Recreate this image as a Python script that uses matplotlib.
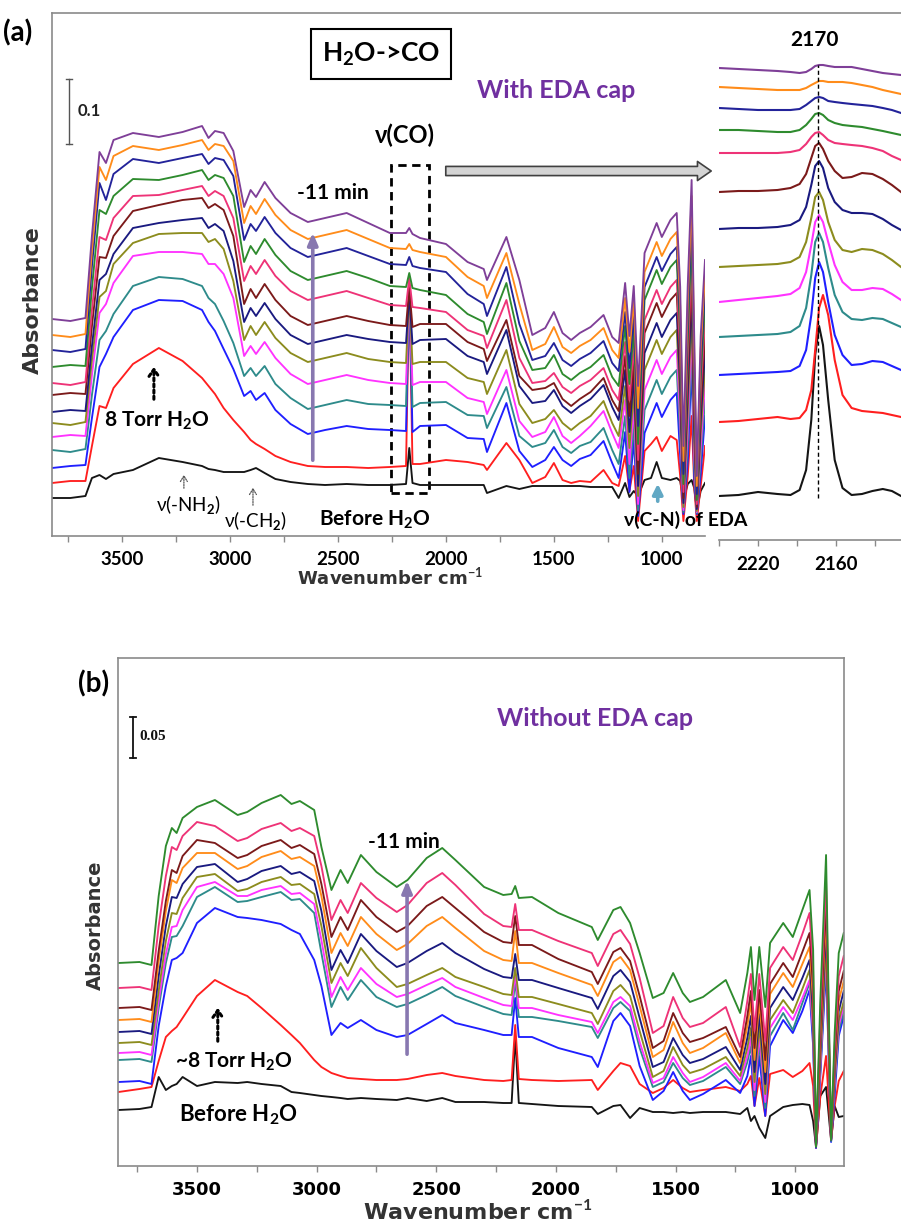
import matplotlib
matplotlib.use("Agg")
import matplotlib.pyplot as plt
import numpy as np
from matplotlib.patches import Rectangle, FancyArrowPatch, ArrowStyle
from matplotlib.lines import Line2D
from matplotlib.ticker import MultipleLocator, FixedLocator, NullLocator

plt.rcParams['font.family'] = ['Lato', 'DejaVu Sans']
plt.rcParams['mathtext.fontset'] = 'custom'
plt.rcParams['mathtext.rm'] = 'Lato:bold'
plt.rcParams['mathtext.it'] = 'Lato:bold:italic'
plt.rcParams['mathtext.bf'] = 'Lato:bold'

# ---------------------------------------------------------------- data (a)
# values, in units of the scale bar (65 units = 0.1 abs)
A_UNIT = 0.1 / 65.0
wn_a = [3825, 3740, 3670, 3640, 3605, 3575, 3540, 3450, 3330, 3220,
        3130, 3100, 3070, 3030, 2985, 2935, 2905, 2880, 2840, 2790,
        2720, 2640, 2560, 2460, 2360, 2260, 2185, 2170, 2155, 2120,
        2000, 1900, 1825, 1810, 1720, 1660, 1600, 1540, 1500, 1460,
        1420, 1380, 1330, 1270, 1230, 1200, 1170, 1150, 1130, 1110,
        1080, 1050, 1024, 1000, 960, 931, 915, 900, 880, 862,
        850, 838, 820, 800]
a_black_before = [38, 38, 40, 58, 61, 57, 62, 66, 78, 74,
                  70, 67, 66, 64, 64, 64, 66, 68, 63, 57,
                  54, 52, 51, 52, 51, 51, 52, 88, 53, 51,
                  51, 51, 51, 43, 50, 47, 50, 50, 50, 50,
                  50, 50, 49, 49, 49, 38, 53, 39, 45, 40,
                  56, 58, 74, 58, 56, 58, 55, 36, 52, 56,
                  48, 26, 45, 53]
a_red_8torr = [53, 55, 55, 90, 130, 128, 148, 172, 188, 175,
               158, 150, 142, 128, 116, 104, 96, 92, 87, 80,
               74, 70, 69, 69, 68, 69, 70, 250, 72, 72,
               76, 74, 71, 66, 93, 76, 53, 59, 73, 56,
               53, 55, 54, 66, 53, 50, 80, 45, 70, 15,
               85, 92, 99, 85, 100, 96, 60, 15, 60, 120,
               50, 15, 50, 90]
a_blue = [68, 70, 71, 118, 169, 182, 199, 226, 236, 235,
          226, 214, 205, 187, 167, 140, 145, 136, 143, 126,
          112, 102, 106, 110, 107, 106, 105, 247, 104, 110,
          111, 98, 97, 84, 133, 85, 69, 76, 89, 76,
          70, 77, 81, 95, 73, 58, 104, 44, 96, 20,
          103, 119, 133, 119, 136, 143, 80, 22, 75, 172,
          58, 22, 62, 120]
a_teal = [86, 84, 87, 141, 196, 205, 222, 250, 259, 257,
          250, 238, 232, 215, 193, 160, 168, 160, 170, 152,
          138, 127, 131, 136, 132, 131, 130, 245, 129, 133,
          134, 121, 120, 108, 149, 100, 89, 93, 106, 89,
          83, 90, 94, 108, 86, 72, 120, 58, 112, 26,
          126, 142, 156, 142, 159, 166, 100, 24, 90, 190,
          70, 23, 75, 136]
a_magenta = [99, 101, 100, 161, 223, 232, 253, 280, 284, 284,
             282, 272, 272, 262, 238, 180, 190, 182, 194, 178,
             162, 152, 156, 161, 156, 153, 152, 244, 151, 154,
             154, 138, 134, 122, 166, 115, 99, 104, 119, 100,
             93, 100, 110, 125, 103, 88, 136, 72, 128, 32,
             146, 162, 176, 162, 179, 186, 116, 26, 106, 208,
             82, 24, 88, 152]
a_olive = [113, 111, 114, 176, 239, 245, 272, 293, 302, 303,
           303, 294, 297, 287, 255, 196, 210, 201, 214, 198,
           183, 174, 178, 183, 177, 174, 173, 242, 172, 174,
           174, 158, 154, 142, 186, 132, 113, 117, 126, 113,
           106, 113, 120, 135, 113, 100, 150, 88, 144, 40,
           166, 182, 196, 182, 199, 206, 134, 29, 124, 226,
           95, 25, 102, 168]
a_navy2 = [124, 126, 125, 190, 256, 262, 282, 308, 313, 316,
           318, 308, 312, 305, 275, 214, 228, 220, 233, 217,
           201, 192, 196, 201, 197, 194, 193, 242, 192, 196,
           197, 180, 174, 162, 206, 150, 133, 135, 146, 130,
           123, 130, 137, 151, 129, 116, 166, 104, 160, 50,
           183, 199, 213, 199, 216, 223, 150, 33, 142, 244,
           110, 27, 116, 184]
a_brown = [141, 143, 142, 210, 279, 278, 300, 325, 331, 336,
           338, 328, 332, 326, 300, 232, 247, 238, 252, 236,
           220, 211, 215, 220, 215, 211, 210, 248, 209, 212,
           212, 194, 187, 175, 216, 160, 146, 148, 153, 137,
           130, 137, 144, 158, 136, 125, 180, 120, 175, 62,
           203, 219, 233, 219, 236, 243, 168, 38, 160, 262,
           125, 29, 130, 200]
a_pink = [153, 151, 154, 226, 299, 296, 318, 340, 341, 346,
          350, 340, 345, 340, 318, 255, 270, 262, 276, 260,
          245, 236, 240, 245, 238, 231, 230, 258, 229, 228,
          224, 206, 200, 188, 236, 178, 153, 155, 163, 149,
          143, 150, 156, 168, 146, 136, 194, 136, 190, 76,
          216, 232, 246, 232, 249, 256, 182, 44, 178, 280,
          140, 32, 144, 216]
a_green = [169, 171, 170, 248, 326, 322, 340, 357, 356, 361,
           366, 356, 361, 358, 340, 274, 290, 282, 297, 281,
           265, 256, 260, 265, 258, 250, 249, 263, 248, 246,
           241, 222, 214, 202, 253, 195, 166, 168, 181, 162,
           156, 163, 169, 181, 159, 150, 210, 152, 206, 92,
           236, 252, 266, 252, 269, 276, 200, 52, 196, 300,
           155, 36, 158, 232]
a_navy = [186, 184, 187, 270, 353, 336, 362, 377, 373, 378,
          382, 372, 378, 376, 360, 296, 312, 305, 319, 303,
          288, 279, 283, 288, 280, 272, 271, 279, 270, 268,
          264, 242, 232, 220, 269, 212, 176, 180, 193, 176,
          170, 177, 183, 195, 173, 165, 224, 168, 222, 110,
          249, 265, 279, 265, 282, 289, 215, 62, 214, 322,
          170, 42, 172, 248]
a_orange = [201, 199, 202, 285, 369, 356, 380, 390, 386, 391,
            396, 386, 392, 390, 375, 313, 330, 322, 337, 321,
            306, 297, 301, 306, 297, 288, 287, 292, 286, 284,
            279, 259, 250, 238, 283, 232, 186, 192, 209, 189,
            183, 190, 196, 208, 186, 178, 238, 184, 236, 128,
            264, 280, 294, 280, 297, 304, 230, 75, 232, 340,
            185, 50, 186, 262]
a_purple_11min = [217, 215, 218, 300, 384, 373, 396, 403, 399, 404,
                  410, 398, 405, 403, 385, 329, 346, 339, 354, 338,
                  323, 314, 318, 323, 313, 303, 303, 308, 302, 298,
                  292, 274, 267, 256, 299, 256, 201, 208, 224, 203,
                  196, 203, 209, 221, 199, 193, 253, 200, 250, 150,
                  283, 299, 313, 299, 316, 323, 249, 90, 250, 356,
                  200, 60, 200, 276]

# ---------------------------------------------------------------- inset of (a), nu(CO) region
wn_in = [2250, 2235, 2220, 2205, 2195, 2188, 2183, 2179, 2176, 2173,
         2170, 2166, 2161, 2155, 2148, 2140, 2132, 2124, 2117, 2110]
in_black = [44, 45, 48, 46, 45, 50, 70, 120, 185, 214, 195, 140, 80, 52, 45, 46, 49, 51, 49, 44]
in_red = [118, 119, 121, 123, 121, 122, 130, 150, 190, 232, 245, 225, 180, 145, 132, 129, 128, 127, 125, 123]
in_blue = [165, 166, 167, 168, 169, 174, 190, 225, 262, 278, 268, 238, 205, 185, 175, 176, 179, 178, 174, 170]
in_teal = [203, 204, 205, 206, 208, 214, 232, 265, 298, 307, 298, 272, 245, 228, 221, 220, 222, 221, 217, 213]
in_magenta = [238, 240, 242, 244, 246, 252, 268, 295, 318, 325, 318, 298, 275, 258, 250, 250, 252, 251, 246, 240]
in_olive = [273, 274, 275, 276, 278, 283, 298, 322, 343, 348, 340, 318, 300, 290, 288, 291, 290, 286, 280, 273]
in_navy2 = [311, 312, 312, 313, 315, 320, 333, 355, 374, 379, 372, 352, 338, 330, 327, 327, 326, 321, 315, 310]
in_brown = [348, 349, 349, 350, 352, 356, 366, 382, 394, 397, 391, 379, 369, 362, 363, 367, 366, 361, 355, 348]
in_pink = [387, 387, 387, 387, 388, 390, 396, 403, 407, 408, 405, 400, 397, 396, 395, 394, 392, 389, 384, 380]
in_green = [410, 410, 409, 408, 408, 410, 415, 421, 426, 427, 425, 420, 417, 415, 414, 413, 411, 409, 407, 405]
in_navy = [432, 431, 430, 430, 430, 431, 435, 439, 442, 443, 442, 439, 438, 437, 436, 435, 434, 432, 430, 427]
in_orange = [453, 452, 451, 450, 450, 450, 452, 455, 457, 459, 459, 458, 458, 458, 457, 455, 453, 450, 448, 446]
in_purple = [472, 471, 470, 469, 468, 467, 468, 471, 474, 475, 475, 474, 473, 473, 473, 471, 469, 467, 466, 465]

# ---------------------------------------------------------------- data (b)
# values, in units of the scale bar (41 units = 0.05 abs)
B_UNIT = 0.05 / 41.0
wn_b = [3828, 3740, 3690, 3660, 3630, 3605, 3585, 3560, 3500, 3425,
        3330, 3290, 3230, 3150, 3105, 3070, 3010, 2980, 2938, 2900,
        2870, 2815, 2750, 2665, 2620, 2540, 2475, 2420, 2300, 2220,
        2185, 2170, 2155, 2100, 1990, 1850, 1825, 1760, 1730, 1690,
        1650, 1595, 1550, 1510, 1470, 1440, 1385, 1290, 1230, 1200,
        1185, 1170, 1150, 1125, 1105, 1050, 1010, 970, 940, 925,
        913, 895, 871, 850, 835, 818, 797]
b_black_before = [56, 57, 59, 89, 76, 80, 82, 89, 80, 84,
                  83, 84, 82, 80, 74, 73, 71, 70, 69, 68,
                  67, 68, 67, 66, 68, 65, 68, 64, 64, 63,
                  63, 130, 63, 62, 60, 59, 52, 60, 61, 48,
                  58, 54, 54, 53, 54, 53, 54, 54, 52, 58,
                  45, 50, 38, 28, 50, 59, 61, 62, 61, 45,
                  19, 70, 79, 26, 60, 49, 50]
b_red_8torr = [74, 77, 79, 105, 129, 135, 139, 148, 170, 186,
               174, 170, 158, 141, 131, 123, 106, 99, 93, 90,
               88, 87, 86, 86, 87, 91, 93, 90, 86, 85,
               86, 141, 87, 86, 85, 86, 76, 95, 103, 100,
               82, 73, 78, 86, 78, 74, 76, 79, 75, 82,
               90, 60, 88, 50, 92, 96, 89, 95, 103, 80,
               18, 70, 110, 25, 60, 85, 95]
b_blue = [84, 85, 82, 140, 180, 206, 208, 213, 243, 258,
          249, 248, 246, 242, 236, 232, 206, 180, 131, 143,
          138, 146, 136, 129, 131, 142, 151, 143, 136, 131,
          131, 168, 129, 129, 118, 109, 99, 145, 153, 140,
          100, 66, 75, 94, 75, 66, 72, 86, 73, 90,
          110, 60, 110, 50, 120, 146, 133, 155, 176, 120,
          18, 90, 199, 24, 70, 130, 150]
b_teal = [106, 107, 104, 158, 203, 229, 230, 240, 269, 279,
          264, 265, 269, 274, 266, 267, 253, 213, 159, 179,
          166, 186, 169, 159, 162, 171, 179, 170, 159, 152,
          151, 185, 149, 149, 145, 139, 128, 158, 164, 155,
          118, 79, 84, 103, 88, 81, 85, 99, 82, 104,
          120, 70, 122, 58, 130, 153, 136, 163, 183, 130,
          20, 96, 209, 25, 80, 135, 155]
b_magenta = [113, 114, 111, 165, 212, 239, 240, 256, 279, 284,
             270, 270, 276, 280, 272, 273, 262, 226, 169, 189,
             176, 198, 182, 169, 172, 181, 188, 179, 168, 161,
             160, 192, 158, 158, 151, 144, 133, 164, 169, 160,
             124, 83, 88, 109, 93, 84, 89, 103, 85, 110,
             128, 76, 130, 64, 138, 159, 146, 168, 186, 134,
             21, 100, 216, 26, 85, 140, 160]
b_olive = [123, 124, 121, 175, 225, 253, 252, 268, 289, 292,
           275, 277, 284, 289, 281, 282, 272, 240, 183, 203,
           190, 218, 198, 179, 182, 191, 198, 189, 179, 172,
           171, 198, 169, 169, 162, 153, 142, 175, 181, 170,
           135, 89, 95, 119, 101, 93, 97, 109, 90, 118,
           138, 84, 140, 72, 146, 166, 153, 177, 196, 142,
           22, 106, 223, 27, 90, 145, 165]
b_navy = [134, 135, 132, 190, 240, 269, 268, 282, 299, 302,
          284, 287, 295, 300, 292, 294, 285, 255, 196, 216,
          203, 232, 215, 199, 203, 215, 223, 213, 197, 189,
          188, 212, 186, 186, 178, 168, 157, 190, 196, 184,
          148, 99, 104, 128, 111, 103, 107, 119, 96, 128,
          150, 94, 152, 82, 158, 179, 166, 188, 206, 152,
          20, 115, 239, 26, 95, 155, 175]
b_orange = [146, 147, 144, 205, 255, 286, 283, 298, 313, 313,
            297, 300, 309, 315, 307, 309, 300, 270, 213, 233,
            220, 249, 232, 216, 222, 240, 249, 238, 215, 206,
            205, 235, 203, 203, 193, 181, 170, 204, 209, 196,
            160, 109, 116, 144, 123, 113, 118, 133, 103, 140,
            164, 106, 165, 94, 172, 193, 179, 202, 219, 165,
            22, 125, 253, 27, 102, 165, 185]
b_brown = [158, 159, 156, 215, 265, 296, 293, 310, 326, 323,
           308, 311, 320, 326, 318, 321, 312, 282, 229, 249,
           236, 266, 249, 234, 240, 260, 269, 258, 234, 224,
           223, 250, 221, 221, 207, 194, 182, 214, 218, 205,
           170, 118, 125, 153, 133, 124, 128, 139, 109, 150,
           175, 118, 176, 106, 182, 203, 189, 214, 233, 178,
           21, 135, 266, 28, 110, 175, 195]
b_pink = [178, 179, 176, 240, 290, 319, 316, 330, 344, 340,
          325, 328, 337, 343, 335, 338, 330, 300, 246, 266,
          253, 283, 268, 254, 261, 283, 293, 281, 252, 240,
          239, 262, 236, 236, 225, 213, 200, 232, 236, 222,
          188, 133, 140, 169, 148, 139, 143, 159, 119, 165,
          192, 135, 192, 125, 198, 219, 206, 232, 253, 195,
          20, 150, 286, 27, 120, 190, 210]
b_green_11min = [203, 204, 201, 270, 320, 338, 333, 348, 359, 366,
                 351, 354, 363, 371, 362, 365, 356, 319, 276, 296,
                 283, 311, 294, 279, 286, 308, 318, 306, 279, 271,
                 272, 280, 268, 269, 253, 239, 226, 256, 259, 243,
                 213, 168, 173, 193, 173, 164, 169, 186, 153, 193,
                 219, 166, 219, 159, 223, 243, 229, 256, 276, 216,
                 19, 166, 311, 26, 133, 213, 233]

# ---------------------------------------------------------------- colours
C_BLACK, C_RED, C_BLUE, C_TEAL = '#151515', '#FF1F1F', '#1F1FFF', '#2E8B8B'
C_MAG, C_OLIVE, C_NAVY2, C_BROWN = '#FF33FF', '#8C8C1E', '#1A1A80', '#7B1A1A'
C_PINK, C_GREEN, C_NAVY, C_ORANGE, C_PURPLE = '#EE3377', '#2E8B2E', '#23239A', '#FF8C1A', '#7F3F98'

series_a = [(a_black_before, C_BLACK), (a_red_8torr, C_RED), (a_blue, C_BLUE), (a_teal, C_TEAL),
            (a_magenta, C_MAG), (a_olive, C_OLIVE), (a_navy2, C_NAVY2), (a_brown, C_BROWN),
            (a_pink, C_PINK), (a_green, C_GREEN), (a_navy, C_NAVY), (a_orange, C_ORANGE),
            (a_purple_11min, C_PURPLE)]
series_in = [(in_black, C_BLACK), (in_red, C_RED), (in_blue, C_BLUE), (in_teal, C_TEAL),
             (in_magenta, C_MAG), (in_olive, C_OLIVE), (in_navy2, C_NAVY2), (in_brown, C_BROWN),
             (in_pink, C_PINK), (in_green, C_GREEN), (in_navy, C_NAVY), (in_orange, C_ORANGE),
             (in_purple, C_PURPLE)]
series_b = [(b_black_before, C_BLACK), (b_red_8torr, C_RED), (b_blue, C_BLUE), (b_teal, C_TEAL),
            (b_magenta, C_MAG), (b_olive, C_OLIVE), (b_navy, C_NAVY2), (b_orange, C_ORANGE),
            (b_brown, C_BROWN), (b_pink, C_PINK), (b_green_11min, C_GREEN)]

# ---------------------------------------------------------------- figure
W, H = 901, 1223
fig = plt.figure(figsize=(W / 100, H / 100), dpi=100)


def fx(px):
    return px / W


def fy(py):
    return 1 - py / H


SPINE = '#8a8a8a'
TICKFONT_A = dict(family=['Lato', 'DejaVu Sans'], weight='bold', size=13.5)


def style_axis(ax, fontprops, pad):
    ax.yaxis.set_major_locator(NullLocator())
    ax.tick_params(axis='x', which='both', direction='out', length=4.5, width=1.0,
                   color=SPINE, pad=pad)
    for lab in ax.get_xticklabels():
        lab.set_fontproperties(matplotlib.font_manager.FontProperties(**fontprops))
    for s in ax.spines.values():
        s.set_color(SPINE)
        s.set_linewidth(1.2)


# ---- panel (a) main
axa = fig.add_axes([fx(52), fy(536), fx(705) - fx(52), fy(13) - fy(536)])
for vals, col in series_a:
    axa.plot(wn_a, np.array(vals) * A_UNIT, color=col, lw=1.35)
axa.set_xlim(3825, 800)
axa.set_ylim(0, 523 * A_UNIT)
axa.xaxis.set_major_locator(FixedLocator([3500, 3000, 2500, 2000, 1500, 1000]))
axa.xaxis.set_minor_locator(MultipleLocator(250))
axa.spines['right'].set_visible(False)
axa.spines['top'].set_visible(False)
style_axis(axa, TICKFONT_A, 6)
fig.add_artist(Line2D([fx(52), fx(901)], [fy(13), fy(13)], color=SPINE, lw=1.2))

# scale bar 0.1
sb_x, sb_y0 = 3746, 392 * A_UNIT
axa.plot([sb_x, sb_x], [sb_y0, sb_y0 + 0.1], color='#555555', lw=1.0)
axa.plot([sb_x - 12, sb_x + 12], [sb_y0, sb_y0], color='#555555', lw=1.0)
axa.plot([sb_x - 12, sb_x + 12], [sb_y0 + 0.1, sb_y0 + 0.1], color='#555555', lw=1.0)
axa.text(3705, sb_y0 + 0.05, '0.1', fontsize=12, weight='bold', ha='left', va='center', color='#222222')

# dashed box around nu(CO)
axa.add_patch(Rectangle((2255, 43 * A_UNIT), 2080 - 2255, (371 - 43) * A_UNIT, fill=False,
                        ls=(0, (3, 2)), lw=2.0, ec='black'))
# time arrow
axa.annotate('', xy=(2617, 306 * A_UNIT), xytext=(2617, 73 * A_UNIT),
             arrowprops=dict(arrowstyle='-|>,head_length=0.7,head_width=0.3', color='#8878B0', lw=2.6))
# dotted arrows
axa.annotate('', xy=(3353, 172 * A_UNIT), xytext=(3353, 134 * A_UNIT),
             arrowprops=dict(arrowstyle='->,head_length=0.5,head_width=0.35', color='black', lw=2.2,
                             ls=(0, (1, 1))))
axa.annotate('', xy=(3214, 64 * A_UNIT), xytext=(3214, 45 * A_UNIT),
             arrowprops=dict(arrowstyle='->,head_length=0.4,head_width=0.25', color='#555555', lw=0.9,
                             ls=(0, (1, 1))))
axa.annotate('', xy=(2894, 51 * A_UNIT), xytext=(2894, 28 * A_UNIT),
             arrowprops=dict(arrowstyle='->,head_length=0.4,head_width=0.25', color='#555555', lw=0.9,
                             ls=(0, (1, 1))))
axa.annotate('', xy=(1019, 55 * A_UNIT), xytext=(1019, 32 * A_UNIT),
             arrowprops=dict(arrowstyle='-|>,head_length=0.6,head_width=0.3', color='#62A8C4', lw=2.6))

# ---- inset of (a)
axi = fig.add_axes([fx(719), fy(540), fx(901) - fx(719), fy(55) - fy(540)])
for vals, col in series_in:
    axi.plot(wn_in, vals, color=col, lw=1.5)
axi.set_xlim(2250, 2110)
axi.set_ylim(0, 485)
axi.plot([2174, 2174], [42, 475], color='black', lw=1.0, ls=(0, (3, 2)))
axi.xaxis.set_major_locator(FixedLocator([2250, 2220, 2190, 2160, 2130]))
axi.set_xticklabels(['', '2220', '', '2160', ''])
for s in ['left', 'right', 'top']:
    axi.spines[s].set_visible(False)
style_axis(axi, TICKFONT_A, 7)
axi.patch.set_alpha(0)

# ---- panel (b)
TICKFONT_B = dict(family=['DejaVu Sans'], weight='bold', size=13)
axb = fig.add_axes([fx(118), fy(1166), fx(844) - fx(118), fy(658) - fy(1166)])
for vals, col in series_b:
    axb.plot(wn_b, np.array(vals) * B_UNIT, color=col, lw=1.35)
axb.set_xlim(3830, 796)
axb.set_ylim(0, 508 * B_UNIT)
axb.xaxis.set_major_locator(FixedLocator([3500, 3000, 2500, 2000, 1500, 1000]))
axb.xaxis.set_minor_locator(MultipleLocator(250))
style_axis(axb, TICKFONT_B, 6)

sbx, sby0 = 3768, 408 * B_UNIT
axb.plot([sbx, sbx], [sby0, sby0 + 0.05], color='#111111', lw=1.3)
axb.plot([sbx - 12, sbx + 12], [sby0, sby0], color='#111111', lw=1.3)
axb.plot([sbx - 12, sbx + 12], [sby0 + 0.05, sby0 + 0.05], color='#111111', lw=1.3)
axb.text(3742, sby0 + 0.026, '0.05', fontsize=11, weight='bold', family='Liberation Serif',
         ha='left', va='center', color='#111111')
axb.annotate('', xy=(2622, 288 * B_UNIT), xytext=(2622, 109 * B_UNIT),
             arrowprops=dict(arrowstyle='-|>,head_length=0.7,head_width=0.3', color='#8878B0', lw=2.6))
axb.annotate('', xy=(3413, 161 * B_UNIT), xytext=(3413, 122 * B_UNIT),
             arrowprops=dict(arrowstyle='->,head_length=0.5,head_width=0.35', color='black', lw=2.2,
                             ls=(0, (1, 1))))

# ---------------------------------------------------------------- texts
def T(x, y, s, size, ha='center', color='black', weight='bold', **kw):
    fig.text(fx(x), fy(y), s, fontsize=size, ha=ha, va='center', color=color, weight=weight, **kw)


T(3, 33, '(a)', 20, ha='left')
fig.text(fx(381), fy(54), r'H$_2$O->CO', fontsize=19, weight='bold', ha='center', va='center',
         bbox=dict(boxstyle='square,pad=0.42', fc='white', ec='black', lw=1.5))
T(556, 90, 'With EDA cap', 18, color='#7030A0')
T(405, 135, 'ν(CO)', 17)
T(333, 193, '-11 min', 15)
T(814, 40, '2170', 15)
T(157, 421, r'8 Torr H$_2$O', 15)
T(188, 505, r'ν(-NH$_2$)', 13.5, weight='normal')
T(255, 521, r'ν(-CH$_2$)', 13.5, weight='normal')
T(375, 520, r'Before H$_2$O', 15)
T(686, 520, 'ν(C-N) of EDA', 14)
fig.text(fx(390), fy(578), r'Wavenumber cm$^{-1}$', fontsize=13, weight='bold', family='DejaVu Sans',
         ha='center', va='center', color='#333333')
fig.text(fx(33), fy(300), 'Absorbance', fontsize=16, weight='bold', family='DejaVu Sans',
         ha='center', va='center', rotation=90, color='#333333')

# gray block arrow from the dashed box to the inset
fig.add_artist(FancyArrowPatch((fx(443), fy(171)), (fx(714), fy(171)), transform=fig.transFigure,
                               arrowstyle=ArrowStyle.Simple(head_length=0.9, head_width=1.25, tail_width=0.6),
                               mutation_scale=11, fc='#d4d4d4', ec='#404040', lw=1.2))

T(78, 684, '(b)', 20, ha='left')
T(595, 718, 'Without EDA cap', 18, color='#7030A0')
T(404, 842, '-11 min', 15)
T(234, 1062, r'~8 Torr H$_2$O', 15)
T(238, 1115, r'Before H$_2$O', 16)
fig.text(fx(478), fy(1212), r'Wavenumber cm$^{-1}$', fontsize=16, weight='bold', family='DejaVu Sans',
         ha='center', va='center', color='#333333')
fig.text(fx(95), fy(925), 'Absorbance', fontsize=14, weight='bold', family='DejaVu Sans',
         ha='center', va='center', rotation=90, color='#333333')

fig.savefig('out.png', dpi=100, facecolor='white')
